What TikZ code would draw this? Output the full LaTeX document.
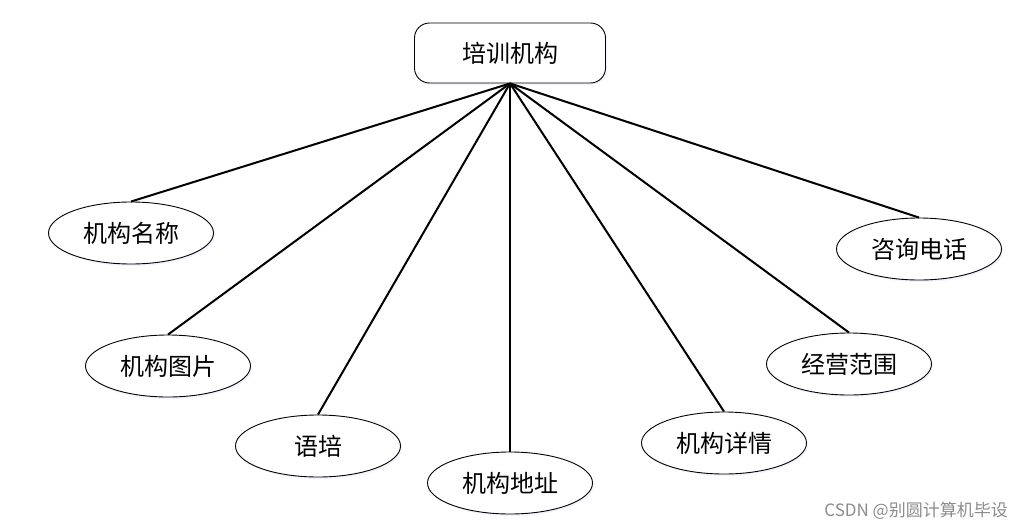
\documentclass[tikz,border=0pt]{standalone}
\usepackage{fontspec}
\newfontfamily\cjk{Noto Sans CJK SC}
\usetikzlibrary{shapes.geometric,shadows}
\begin{document}
\begin{tikzpicture}[x=1pt,y=-1pt,
  attr/.style={ellipse,draw=black,line width=0.9pt,fill=white,minimum width=165pt,minimum height=62pt,inner sep=0pt,font=\cjk\fontsize{24}{27}\selectfont,
    drop shadow={shadow xshift=1.5pt,shadow yshift=-2pt,fill=blue!8,opacity=0.6}},
  entity/.style={rectangle,rounded corners=15pt,draw=black,line width=0.9pt,fill=white,minimum width=191pt,minimum height=60pt,inner sep=0pt,font=\cjk\fontsize{24}{27}\selectfont,
    drop shadow={shadow xshift=1.5pt,shadow yshift=-2pt,fill=blue!8,opacity=0.6}},
  link/.style={line width=2pt,black}]
\useasboundingbox (0,0) rectangle (1024,530);
\fill[white] (0,0) rectangle (1024,530);
\node[entity] (e) at (510,53) {培训机构};
\node[attr] (a1) at (131,233) {机构名称};
\node[attr] (a2) at (168,366) {机构图片};
\node[attr] (a3) at (318,446) {语培};
\node[attr] (a4) at (510,483) {机构地址};
\node[attr] (a5) at (724,443) {机构详情};
\node[attr] (a6) at (849,364) {经营范围};
\node[attr] (a7) at (919,249) {咨询电话};
\foreach \n in {a1,a2,a3,a4,a5,a6,a7}{
  \draw[link] (e.south) -- (\n.north);
}
\node[anchor=east,text=black!45,font=\cjk\fontsize{17}{20}\selectfont,inner sep=0pt] (wm) at (1008,511) {CSDN @别圆计算机毕设};
\end{tikzpicture}
\end{document}
